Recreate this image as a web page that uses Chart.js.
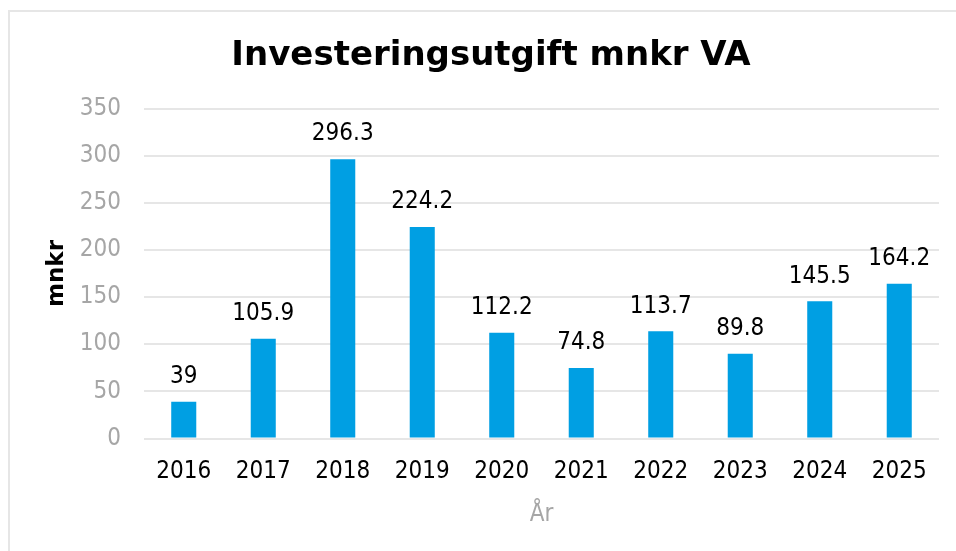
<!DOCTYPE html>
<html>
<head>
<meta charset="utf-8">
<script src="https://cdn.jsdelivr.net/npm/chart.js@4/dist/chart.umd.min.js"></script>
<style>
  html, body { margin: 0; padding: 0; background: #fff; }
  #wrap { width: 956px; height: 551px; position: relative; }
</style>
</head>
<body>
<div id="wrap"><canvas id="myChart"></canvas></div>
<script>
// 데이터
const years = ['2016', '2017', '2018', '2019', '2020', '2021', '2022', '2023', '2024', '2025'];
const investment = [39, 105.9, 296.3, 224.2, 112.2, 74.8, 113.7, 89.8, 145.5, 164.2];
const yTicks = [0, 50, 100, 150, 200, 250, 300, 350];

const FONT = '"DejaVu Sans Condensed", "Liberation Sans", sans-serif';
const TITLE_FONT = '"DejaVu Sans", sans-serif';

// 바깥 테두리 (왼쪽, 위쪽만 보임)
const framePlugin = {
  id: 'frame',
  beforeDraw(chart) {
    const c = chart.ctx;
    c.save();
    c.strokeStyle = '#e6e6e6';
    c.lineWidth = 2;
    c.beginPath();
    c.moveTo(9, 551);
    c.lineTo(9, 11);
    c.lineTo(956, 11);
    c.stroke();
    c.restore();
  }
};

// 막대 위 값 표시
const valueLabels = {
  id: 'valueLabels',
  afterDatasetsDraw(chart) {
    const c = chart.ctx;
    const meta = chart.getDatasetMeta(0);
    c.save();
    c.font = '24px ' + FONT;
    c.fillStyle = '#000';
    c.textAlign = 'center';
    c.textBaseline = 'middle';
    meta.data.forEach((bar, i) => {
      c.fillText(String(investment[i]), bar.x, bar.y - 25);
    });
    c.restore();
  }
};

let ctx = document.getElementById('myChart');

let config = {
  type: 'bar',
  data: {
    labels: years,
    datasets: [{
      data: investment,
      backgroundColor: '#009fe3',
      borderWidth: 0,
      barPercentage: 1,
      categoryPercentage: 0.315
    }]
  },
  options: {
    responsive: true,
    maintainAspectRatio: false,
    animation: false,
    layout: { padding: { left: 43, right: 17, top: 36, bottom: 22 } },
    plugins: {
      legend: { display: false },
      tooltip: { enabled: false },
      title: {
        display: true,
        text: 'Investeringsutgift mnkr VA',
        color: '#000',
        font: { family: TITLE_FONT, size: 34, weight: 'bold' },
        padding: { top: 0, bottom: 31.7 }
      }
    },
    scales: {
      x: {
        grid: { display: false },
        border: { display: false },
        ticks: { color: '#000', font: { family: FONT, size: 24 }, padding: 11, maxRotation: 0 },
        title: { display: true, text: 'År', color: '#a6a6a6', font: { family: FONT, size: 24 }, padding: 0 },
        afterFit(scale) { scale.height = 90.5; }
      },
      y: {
        min: 0,
        max: 350,
        afterBuildTicks(scale) { scale.ticks = yTicks.map(v => ({ value: v })); },
        grid: { color: '#e6e6e6', lineWidth: 2, drawTicks: false },
        border: { display: false },
        ticks: { color: '#a6a6a6', font: { family: FONT, size: 24 }, padding: 23 },
        title: { display: true, text: 'mnkr', color: '#000', font: { family: TITLE_FONT, size: 23, weight: 'bold' }, padding: 0 },
        afterFit(scale) { scale.width = 101; }
      }
    }
  },
  plugins: [framePlugin, valueLabels]
};

let myChart = new Chart(ctx, config);
</script>
</body>
</html>
